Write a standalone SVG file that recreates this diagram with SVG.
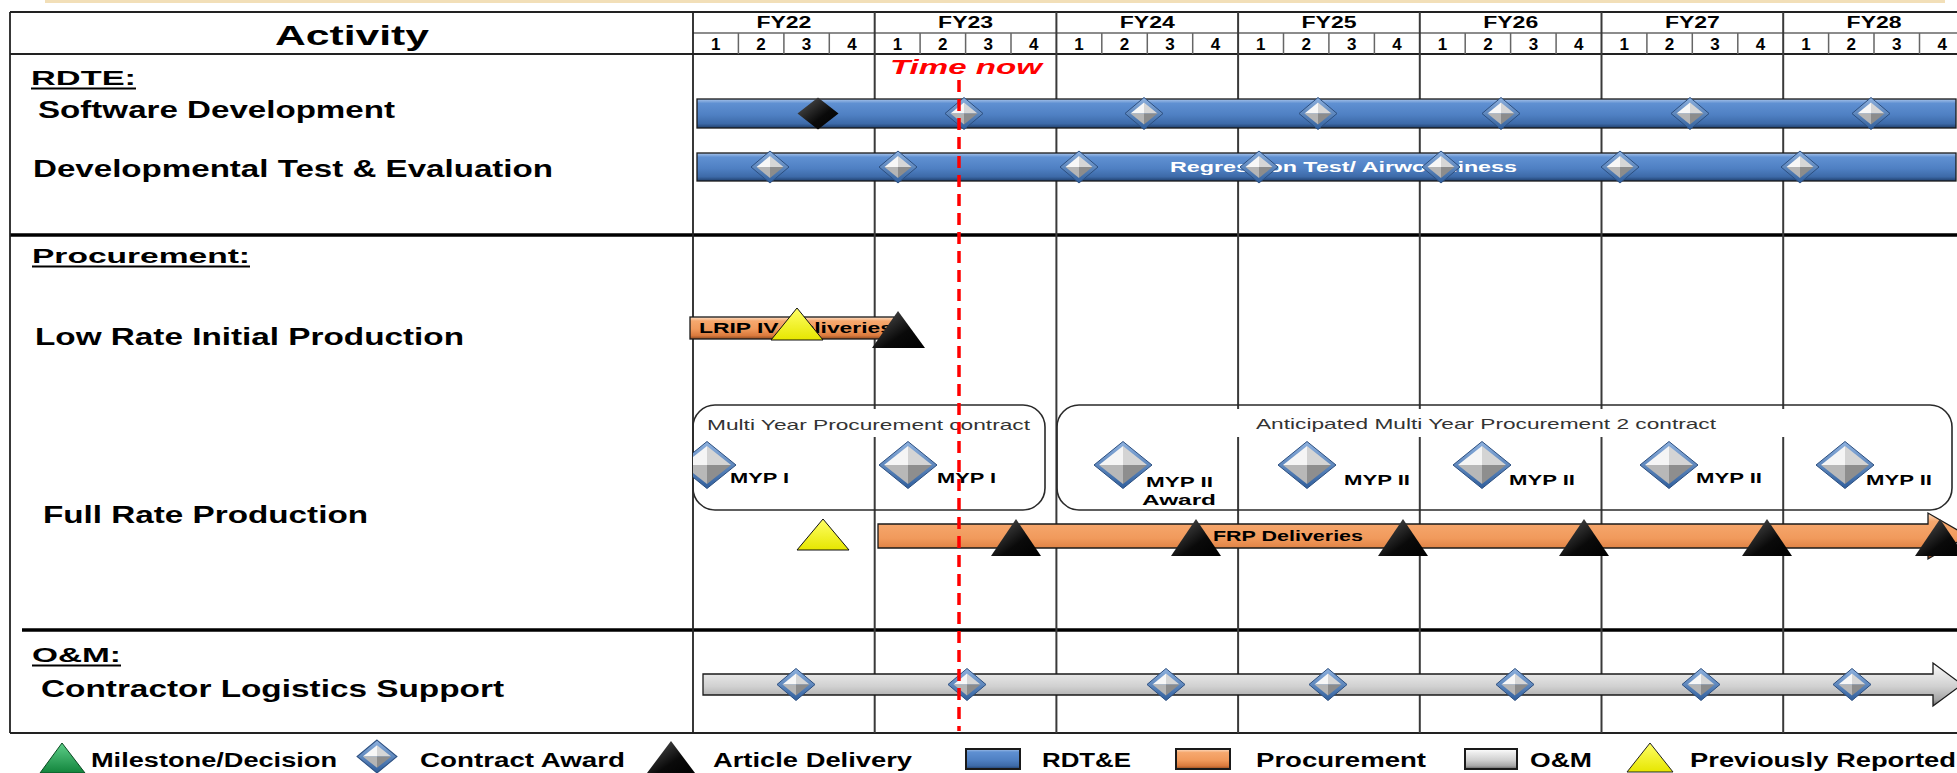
<svg xmlns="http://www.w3.org/2000/svg" width="1957" height="773" viewBox="0 0 1957 773">
<defs>
<style>
text{font-family:"Liberation Sans",Arial,sans-serif;font-weight:bold;fill:#000}
.hd{font-size:16px;text-anchor:middle}
.q{font-size:17px;text-anchor:middle}
.row{font-size:23px}
.sec{font-size:20px}
.leg{font-size:20px}
.mk{font-size:15px}
.note{font-size:15px;font-weight:normal;fill:#333}
.yl{stroke:#3a3a3a;stroke-width:2}
.ql{stroke:#666;stroke-width:1.5}
.thick{stroke:#000;stroke-width:3.5}
.thin{stroke:#222;stroke-width:1.8}
.box{fill:none;stroke:#2a2a2a;stroke-width:1.6}
.bar{stroke:#1a1a1a;stroke-width:1.3}
.tri{stroke:#111;stroke-width:1}
.ul{stroke:#000;stroke-width:2}
</style>
<linearGradient id="gBlue" x1="0" y1="0" x2="0" y2="1">
<stop offset="0" stop-color="#a9c4ea"/><stop offset="0.15" stop-color="#5f90d2"/><stop offset="0.55" stop-color="#4f80c3"/><stop offset="0.85" stop-color="#3d6aa8"/><stop offset="1" stop-color="#1f3e6b"/>
</linearGradient>
<linearGradient id="gOr" x1="0" y1="0" x2="0" y2="1">
<stop offset="0" stop-color="#fde0c8"/><stop offset="0.18" stop-color="#f6a86e"/><stop offset="0.55" stop-color="#f19a5c"/><stop offset="0.85" stop-color="#d9793c"/><stop offset="1" stop-color="#8e4a20"/>
</linearGradient>
<linearGradient id="gGr" x1="0" y1="0" x2="0" y2="1">
<stop offset="0" stop-color="#ffffff"/><stop offset="0.2" stop-color="#ebebeb"/><stop offset="0.55" stop-color="#d0d0d0"/><stop offset="0.85" stop-color="#a6a6a6"/><stop offset="1" stop-color="#5e5e5e"/>
</linearGradient>
<linearGradient id="gEdge" x1="0" y1="0" x2="0" y2="1">
<stop offset="0" stop-color="#8fb2df"/><stop offset="1" stop-color="#2f5e9c"/>
</linearGradient>
<linearGradient id="gBlk" x1="0" y1="0" x2="1" y2="1">
<stop offset="0" stop-color="#5a5a5a"/><stop offset="0.6" stop-color="#0a0a0a"/><stop offset="1" stop-color="#000"/>
</linearGradient>
<linearGradient id="gYel" x1="0" y1="0" x2="0" y2="1">
<stop offset="0" stop-color="#ffff66"/><stop offset="1" stop-color="#e6e600"/>
</linearGradient>
<linearGradient id="gGrn" x1="0" y1="0" x2="0" y2="1">
<stop offset="0" stop-color="#5fd08a"/><stop offset="1" stop-color="#12843c"/>
</linearGradient>
<g id="ds">
<path d="M0,-16L19,0L0,16L-19,0Z" fill="url(#gEdge)" stroke="#2c4f80" stroke-width="1"/>
<path d="M0,-11L0,0L-13.5,0Z" fill="#f7f7f7"/>
<path d="M0,-11L13.5,0L0,0Z" fill="#d6d6d6"/>
<path d="M-13.5,0L0,0L0,11Z" fill="#b5b5b5"/>
<path d="M13.5,0L0,0L0,11Z" fill="#8c8c8c"/>
</g>
<g id="dl">
<path d="M0,-23.5L29,0L0,23.5L-29,0Z" fill="url(#gEdge)" stroke="#2c4f80" stroke-width="1"/>
<path d="M0,-19L0,0L-24,0Z" fill="#f5f5f5"/>
<path d="M0,-19L24,0L0,0Z" fill="#d4d4d4"/>
<path d="M-24,0L0,0L0,19Z" fill="#b8b8b8"/>
<path d="M24,0L0,0L0,19Z" fill="#8e8e8e"/>
</g>
<clipPath id="chart"><rect x="693" y="0" width="1264" height="773"/></clipPath>
</defs>

<rect width="1957" height="773" fill="#fff"/>
<rect x="45" y="0" width="1900" height="3" fill="#f2dfb8"/>

<g id="grid">
<line x1="10" y1="12" x2="1957" y2="12" class="thin"/>
<line x1="693" y1="33" x2="1957" y2="33" class="ql"/>
<line x1="10" y1="54" x2="1957" y2="54" class="thin"/>
<line x1="10" y1="235" x2="1957" y2="235" class="thick"/>
<line x1="22" y1="630" x2="1957" y2="630" class="thick"/>
<line x1="10" y1="733" x2="1957" y2="733" class="thin"/>
<line x1="10" y1="12" x2="10" y2="733" class="thin"/>
<line x1="693" y1="12" x2="693" y2="733" class="thin"/>
<line x1="874.7" y1="12" x2="874.7" y2="733" class="yl"/>
<line x1="1056.4" y1="12" x2="1056.4" y2="733" class="yl"/>
<line x1="1238.1" y1="12" x2="1238.1" y2="733" class="yl"/>
<line x1="1419.8" y1="12" x2="1419.8" y2="733" class="yl"/>
<line x1="1601.5" y1="12" x2="1601.5" y2="733" class="yl"/>
<line x1="1783.2" y1="12" x2="1783.2" y2="733" class="yl"/>
<path class="ql" d="M738.4,33V54M783.9,33V54M829.3,33V54M920.1,33V54M965.6,33V54M1011,33V54M1101.8,33V54M1147.3,33V54M1192.7,33V54M1283.5,33V54M1328.9,33V54M1374.4,33V54M1465.2,33V54M1510.6,33V54M1556.1,33V54M1646.9,33V54M1692.3,33V54M1737.8,33V54M1828.6,33V54M1874,33V54M1919.5,33V54"/>
</g>

<g id="header">
<text x="352" y="45" style="font-size:27px;text-anchor:middle" textLength="154" lengthAdjust="spacingAndGlyphs">Activity</text>
<text class="hd" x="783.9" y="28" textLength="55" lengthAdjust="spacingAndGlyphs">FY22</text>
<text class="hd" x="965.6" y="28" textLength="55" lengthAdjust="spacingAndGlyphs">FY23</text>
<text class="hd" x="1147.3" y="28" textLength="55" lengthAdjust="spacingAndGlyphs">FY24</text>
<text class="hd" x="1329" y="28" textLength="55" lengthAdjust="spacingAndGlyphs">FY25</text>
<text class="hd" x="1510.7" y="28" textLength="55" lengthAdjust="spacingAndGlyphs">FY26</text>
<text class="hd" x="1692.4" y="28" textLength="55" lengthAdjust="spacingAndGlyphs">FY27</text>
<text class="hd" x="1874.1" y="28" textLength="55" lengthAdjust="spacingAndGlyphs">FY28</text>
<text class="q" x="715.7" y="50" textLength="12">1</text><text class="q" x="761.1" y="50" textLength="12">2</text><text class="q" x="806.6" y="50" textLength="12">3</text><text class="q" x="852" y="50" textLength="12">4</text>
<text class="q" x="897.4" y="50" textLength="12">1</text><text class="q" x="942.8" y="50" textLength="12">2</text><text class="q" x="988.3" y="50" textLength="12">3</text><text class="q" x="1033.7" y="50" textLength="12">4</text>
<text class="q" x="1079.1" y="50" textLength="12">1</text><text class="q" x="1124.5" y="50" textLength="12">2</text><text class="q" x="1170" y="50" textLength="12">3</text><text class="q" x="1215.4" y="50" textLength="12">4</text>
<text class="q" x="1260.8" y="50" textLength="12">1</text><text class="q" x="1306.2" y="50" textLength="12">2</text><text class="q" x="1351.7" y="50" textLength="12">3</text><text class="q" x="1397.1" y="50" textLength="12">4</text>
<text class="q" x="1442.5" y="50" textLength="12">1</text><text class="q" x="1487.9" y="50" textLength="12">2</text><text class="q" x="1533.4" y="50" textLength="12">3</text><text class="q" x="1578.8" y="50" textLength="12">4</text>
<text class="q" x="1624.2" y="50" textLength="12">1</text><text class="q" x="1669.6" y="50" textLength="12">2</text><text class="q" x="1715.1" y="50" textLength="12">3</text><text class="q" x="1760.5" y="50" textLength="12">4</text>
<text class="q" x="1805.9" y="50" textLength="12">1</text><text class="q" x="1851.3" y="50" textLength="12">2</text><text class="q" x="1896.8" y="50" textLength="12">3</text><text class="q" x="1942.2" y="50" textLength="12">4</text>
</g>

<g id="labels">
<text class="sec" x="31" y="85" textLength="105" lengthAdjust="spacingAndGlyphs">RDTE:</text>
<line class="ul" x1="31" y1="88.5" x2="136" y2="88.5"/>
<text class="row" x="38" y="118" textLength="357" lengthAdjust="spacingAndGlyphs">Software Development</text>
<text class="row" x="33" y="177" textLength="520" lengthAdjust="spacingAndGlyphs">Developmental Test &amp; Evaluation</text>
<text class="sec" x="32" y="263" textLength="218" lengthAdjust="spacingAndGlyphs">Procurement:</text>
<line class="ul" x1="32" y1="266.5" x2="250" y2="266.5"/>
<text class="row" x="35" y="345" textLength="429" lengthAdjust="spacingAndGlyphs">Low Rate Initial  Production</text>
<text class="row" x="43" y="523" textLength="325" lengthAdjust="spacingAndGlyphs">Full Rate Production</text>
<text class="sec" x="32" y="662" textLength="89" lengthAdjust="spacingAndGlyphs">O&amp;M:</text>
<line class="ul" x1="32" y1="665.5" x2="121" y2="665.5"/>
<text class="row" x="41" y="697" textLength="463" lengthAdjust="spacingAndGlyphs">Contractor Logistics  Support</text>
</g>

<g id="myp-box-1">
<rect x="697" y="409" width="344" height="28" fill="#fff"/>
<rect x="693" y="405" width="352" height="105" rx="22" class="box"/>
<text class="note" x="707" y="430" textLength="323" lengthAdjust="spacingAndGlyphs">Multi  Year Procurement contract</text>
</g>
<g id="myp-box-2">
<rect x="1063" y="409" width="884" height="28" fill="#fff"/>
<rect x="1057" y="405" width="895" height="105" rx="22" class="box"/>
<text class="note" x="1256" y="429" textLength="460" lengthAdjust="spacingAndGlyphs">Anticipated Multi  Year Procurement 2 contract</text>
</g>

<g id="bar-software">
<rect x="697" y="99" width="1259" height="29" fill="url(#gBlue)" class="bar"/>
<path d="M818,97.5L838.5,113.5L818,129.5L797.5,113.5Z" fill="url(#gBlk)"/>
<use href="#ds" x="964" y="113.5"/><use href="#ds" x="1144" y="113.5"/><use href="#ds" x="1318" y="113.5"/><use href="#ds" x="1501" y="113.5"/><use href="#ds" x="1690" y="113.5"/><use href="#ds" x="1871" y="113.5"/>
</g>
<g id="bar-dte">
<rect x="697" y="153" width="1259" height="28" fill="url(#gBlue)" class="bar"/>
<text x="1170" y="172" style="font-size:15px;fill:#fff" textLength="347" lengthAdjust="spacingAndGlyphs">Regression Test/ Airworthiness</text>
<use href="#ds" x="770" y="167"/><use href="#ds" x="898" y="167"/><use href="#ds" x="1079" y="167"/><use href="#ds" x="1259" y="167"/><use href="#ds" x="1441" y="167"/><use href="#ds" x="1620" y="167"/><use href="#ds" x="1800" y="167"/>
</g>

<g id="bar-lrip">
<rect x="690" y="317" width="204" height="22" fill="url(#gOr)" class="bar"/>
<text x="699" y="333" style="font-size:15px" textLength="194" lengthAdjust="spacingAndGlyphs">LRIP IV Deliveries</text>
<polygon points="797,308 823,340 771,340" fill="url(#gYel)" class="tri"/>
<polygon points="898,311 925,348 872,348" fill="url(#gBlk)"/>
</g>

<g id="myp-awards">
<g clip-path="url(#chart)"><use href="#dl" x="707" y="465"/></g>
<use href="#dl" x="908" y="465"/>
<use href="#dl" x="1123" y="465"/>
<use href="#dl" x="1307" y="465"/>
<use href="#dl" x="1482" y="465"/>
<use href="#dl" x="1669" y="465"/>
<use href="#dl" x="1845" y="465"/>
<text class="mk" x="730" y="483" textLength="59" lengthAdjust="spacingAndGlyphs">MYP I</text>
<text class="mk" x="937" y="483" textLength="59" lengthAdjust="spacingAndGlyphs">MYP I</text>
<text class="mk" x="1146" y="487" textLength="67" lengthAdjust="spacingAndGlyphs">MYP II</text>
<text class="mk" x="1142" y="505" textLength="74" lengthAdjust="spacingAndGlyphs">Award</text>
<text class="mk" x="1344" y="485" textLength="66" lengthAdjust="spacingAndGlyphs">MYP II</text>
<text class="mk" x="1509" y="485" textLength="66" lengthAdjust="spacingAndGlyphs">MYP II</text>
<text class="mk" x="1696" y="483" textLength="66" lengthAdjust="spacingAndGlyphs">MYP II</text>
<text class="mk" x="1866" y="485" textLength="66" lengthAdjust="spacingAndGlyphs">MYP II</text>
</g>

<g id="bar-frp">
<path d="M878,524H1928V513L1968,536L1928,559V548H878Z" fill="url(#gOr)" class="bar"/>
<text x="1213" y="541" style="font-size:15px" textLength="150" lengthAdjust="spacingAndGlyphs">FRP Deliveries</text>
<polygon points="823,519 849,550 797,550" fill="url(#gYel)" class="tri"/>
<polygon points="1016,519 1041,556 991,556" fill="url(#gBlk)"/>
<polygon points="1196,519 1221,556 1171,556" fill="url(#gBlk)"/>
<polygon points="1403,519 1428,556 1378,556" fill="url(#gBlk)"/>
<polygon points="1584,519 1609,556 1559,556" fill="url(#gBlk)"/>
<polygon points="1767,519 1792,556 1742,556" fill="url(#gBlk)"/>
<polygon points="1940,519 1965,556 1915,556" fill="url(#gBlk)"/>
</g>

<g id="bar-cls">
<path d="M703,674H1933V663L1962,684.5L1933,706V695H703Z" fill="url(#gGr)" class="bar"/>
<use href="#ds" x="796" y="684.5"/><use href="#ds" x="967" y="684.5"/><use href="#ds" x="1166" y="684.5"/><use href="#ds" x="1328" y="684.5"/><use href="#ds" x="1515" y="684.5"/><use href="#ds" x="1701" y="684.5"/><use href="#ds" x="1852" y="684.5"/>
</g>

<g id="connectors">
<line x1="959" y1="80" x2="959" y2="731" stroke="#ff0000" stroke-width="3.5" stroke-dasharray="12 7"/>
</g>
<g id="time-now">
<text x="890" y="74" style="font-size:21px;font-style:italic;fill:#ff0000" textLength="152" lengthAdjust="spacingAndGlyphs">Time now</text>
</g>

<g id="legend">
<polygon points="62,743 85,773 40,773" fill="url(#gGrn)" stroke="#0b4a22" stroke-width="1"/>
<text class="leg" x="91" y="767" textLength="246" lengthAdjust="spacingAndGlyphs">Milestone/Decision</text>
<g transform="translate(377,756.5) scale(1.05,1.03)"><use href="#ds"/></g>
<text class="leg" x="420" y="767" textLength="205" lengthAdjust="spacingAndGlyphs">Contract Award</text>
<polygon points="671,741 695,773 647,773" fill="url(#gBlk)"/>
<text class="leg" x="713" y="767" textLength="199" lengthAdjust="spacingAndGlyphs">Article Delivery</text>
<rect x="966" y="749" width="54" height="20" fill="url(#gBlue)" stroke="#1a1a1a" stroke-width="2"/>
<text class="leg" x="1042" y="767" textLength="89" lengthAdjust="spacingAndGlyphs">RDT&amp;E</text>
<rect x="1176" y="749" width="54" height="20" fill="url(#gOr)" stroke="#1a1a1a" stroke-width="2"/>
<text class="leg" x="1256" y="767" textLength="170" lengthAdjust="spacingAndGlyphs">Procurement</text>
<rect x="1465" y="749" width="52" height="20" fill="url(#gGr)" stroke="#1a1a1a" stroke-width="2"/>
<text class="leg" x="1530" y="767" textLength="62" lengthAdjust="spacingAndGlyphs">O&amp;M</text>
<polygon points="1650,743 1673,772 1627,772" fill="url(#gYel)" stroke="#222" stroke-width="1"/>
<text class="leg" x="1690" y="767" textLength="266" lengthAdjust="spacingAndGlyphs">Previously Reported</text>
</g>
</svg>
